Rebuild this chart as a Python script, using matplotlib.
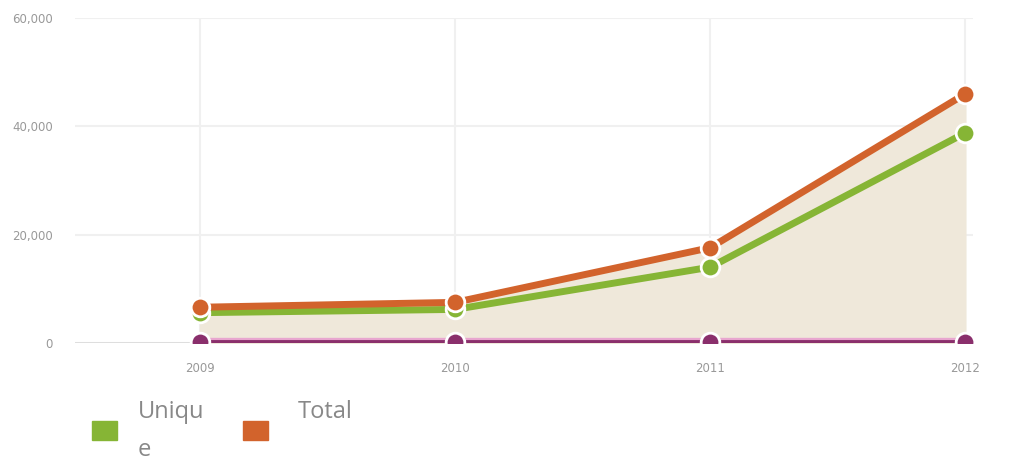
import numpy as np
import matplotlib.pyplot as plt

years = [2009, 2010, 2011, 2012]
total = [6600, 7500, 17600, 46000]
unique = [5600, 6200, 14000, 38800]
other = [250, 250, 250, 250]
yticks = [0, 20000, 40000, 60000]

ORANGE = '#d2632c'
GREEN = '#86b535'
PURPLE = '#8a2f6c'
FILL = '#efe8da'

fig = plt.figure(figsize=(10.18, 4.59), dpi=100)
ax = fig.add_axes([75/1018, 1-343/459, 898/1018, 325/459])

ax.fill_between(years, 0, total, color=FILL, zorder=1)
ax.axhline(0, color='#dcdcdc', lw=2, zorder=1.5)

# purple series with pink halo
ax.plot(years, other, color='#e8a6cf', lw=6, solid_capstyle='butt', zorder=2)
ax.plot(years, other, color=PURPLE, lw=3.5, zorder=3)
ax.scatter(years, other, s=180, c=PURPLE, edgecolors='white', linewidths=2, zorder=3.5)
ax.plot(years, unique, color=GREEN, lw=5, zorder=4)
ax.scatter(years, unique, s=180, c=GREEN, edgecolors='white', linewidths=2, zorder=4.5)
ax.plot(years, total, color=ORANGE, lw=5, zorder=5)
ax.scatter(years, total, s=180, c=ORANGE, edgecolors='white', linewidths=2, zorder=5.5)

ax.set_xlim(2008.51, 2012.03)
ax.set_ylim(0, 60000)
ax.set_xticks(years)
ax.set_yticks(yticks)
ax.set_yticklabels(['{:,}'.format(v) for v in yticks])
ax.tick_params(length=0, labelsize=8.5, labelcolor='#999999')
ax.tick_params(axis='x', pad=14)
ax.tick_params(axis='y', pad=16)
ax.grid(True, color='#f0f0f0', lw=1.5, zorder=0)
ax.set_axisbelow(True)
for s in ax.spines.values():
    s.set_visible(False)

# legend drawn by hand, text wraps like the original
fig.patches.append(plt.Rectangle((92/1018, 1-440/459), 25/1018, 19/459,
                                 transform=fig.transFigure, color=GREEN))
fig.patches.append(plt.Rectangle((243/1018, 1-440/459), 25/1018, 19/459,
                                 transform=fig.transFigure, color=ORANGE))
fig.text(138/1018, 1-400/459, 'Uniqu\ne', fontsize=17, color='#888888',
         family='Open Sans', va='top', linespacing=1.75)
fig.text(298/1018, 1-400/459, 'Total', fontsize=17, color='#888888',
         family='Open Sans', va='top')

fig.savefig('out.png', dpi=100)
